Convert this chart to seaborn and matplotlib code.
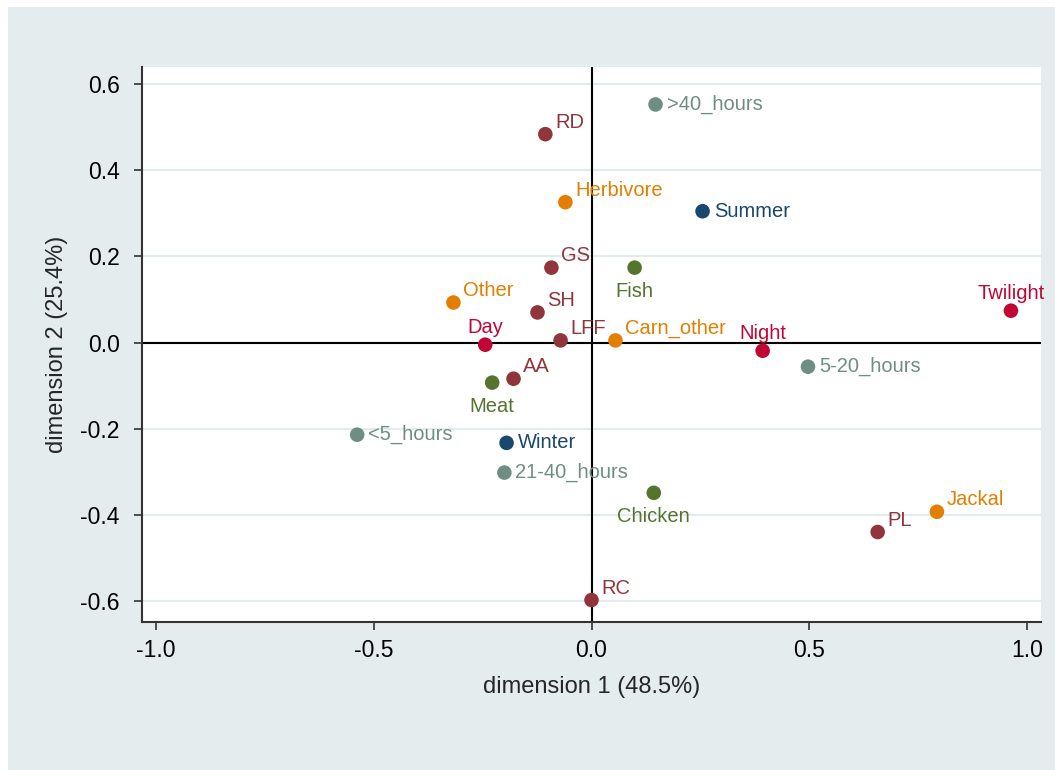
import matplotlib
matplotlib.use("Agg")
import matplotlib.pyplot as plt
import seaborn as sns
import pandas as pd
from matplotlib.patches import Rectangle

labels = [">40_hours", "RD", "Herbivore", "Summer", "GS", "Fish", "Other", "SH",
          "Twilight", "Day", "LFF", "Carn_other", "Night", "5-20_hours", "AA", "Meat",
          "<5_hours", "Winter", "21-40_hours", "Chicken", "Jackal", "PL", "RC"]
dim1 = [0.147, -0.106, -0.060, 0.255, -0.092, 0.099, -0.317, -0.124,
        0.963, -0.244, -0.071, 0.055, 0.393, 0.497, -0.179, -0.228,
        -0.538, -0.195, -0.200, 0.143, 0.793, 0.657, 0.000]
dim2 = [0.553, 0.484, 0.326, 0.305, 0.174, 0.174, 0.093, 0.070,
        0.074, -0.005, 0.005, 0.005, -0.019, -0.056, -0.084, -0.093,
        -0.214, -0.233, -0.302, -0.349, -0.393, -0.440, -0.598]
groups = ["hours", "site", "prey", "season", "site", "food", "prey", "site",
          "time", "time", "site", "prey", "time", "hours", "site", "food",
          "hours", "season", "hours", "food", "prey", "site", "site"]
label_pos = ["right", "ur", "ur", "right", "ur", "below", "ur", "ur",
             "above", "above", "ur", "ur", "above", "right", "ur", "below",
             "right", "right", "right", "below", "ur", "ur", "ur"]

palette = {"season": "#1a476f", "site": "#90353b", "food": "#55752f",
           "prey": "#e37e00", "hours": "#6e8e84", "time": "#c10534"}

df = pd.DataFrame({"label": labels, "dim1": dim1, "dim2": dim2, "group": groups})

sns.set_theme(style="white")
plt.rcParams["font.family"] = ["Liberation Sans", "DejaVu Sans"]

fig = plt.figure(figsize=(10.55, 7.7), dpi=100)
fig.patch.set_facecolor("white")
bg = Rectangle((8 / 1055, 0), 1, (770 - 7) / 770, transform=fig.transFigure,
               facecolor="#e4ecee", edgecolor="none", zorder=-10)
fig.patches.append(bg)
ax = fig.add_axes([142 / 1055, 1 - 622 / 770, (1041 - 142) / 1055, (622 - 67) / 770])
ax.set_zorder(1)
ax.set_facecolor("white")

ax.axhline(0, color="black", lw=1.5, zorder=1)
ax.axvline(0, color="black", lw=1.5, zorder=1)

sns.scatterplot(data=df, x="dim1", y="dim2", hue="group", palette=palette,
                s=110, edgecolor="none", legend=False, ax=ax, zorder=3)

offsets = {"right": ((8, 0), "left", "center"),
           "ur": ((7, 8.5), "left", "center"),
           "above": ((0, 12.5), "center", "center"),
           "below": ((0, -17), "center", "center")}
for lab, x, y, g, p in zip(labels, dim1, dim2, groups, label_pos):
    off, ha, va = offsets[p]
    ax.annotate(lab, (x, y), xytext=off, textcoords="offset points",
                ha=ha, va=va, fontsize=14.5, color=palette[g], zorder=4)

ax.set_xlim(-1.032, 1.032)
ax.set_ylim(-0.649, 0.64)
ax.set_xticks([-1.0, -0.5, 0.0, 0.5, 1.0])
ax.set_xticklabels(["-1.0", "-0.5", "0.0", "0.5", "1.0"])
ax.set_yticks([-0.6, -0.4, -0.2, 0.0, 0.2, 0.4, 0.6])
ax.set_yticklabels(["-0.6", "-0.4", "-0.2", "0.0", "0.2", "0.4", "0.6"])
ax.yaxis.grid(True, color="#e2ecee", lw=1.5, zorder=0)
ax.xaxis.grid(False)
ax.set_axisbelow(True)

for s in ["top", "right"]:
    ax.spines[s].set_visible(False)
for s in ["left", "bottom"]:
    ax.spines[s].set_color("#333333")
    ax.spines[s].set_linewidth(1.5)
ax.tick_params(axis="both", which="major", direction="out", length=6, width=1.2,
               color="#333333", labelsize=16.5, labelcolor="black", bottom=True, left=True)
ax.tick_params(axis="x", pad=6)
ax.tick_params(axis="y", pad=10)

ax.set_xlabel("dimension 1 (48.5%)", fontsize=17, labelpad=10)
ax.set_ylabel("dimension 2 (25.4%)", fontsize=17, labelpad=9)

fig.savefig("out.png", dpi=100, facecolor="white")
